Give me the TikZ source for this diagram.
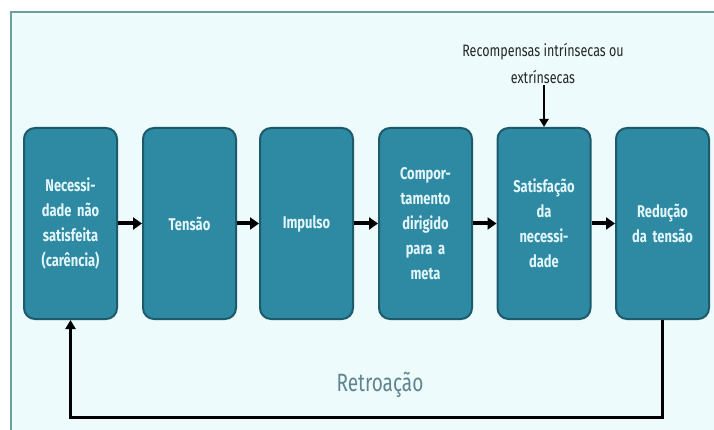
\documentclass[tikz,border=0pt]{standalone}
\usepackage{fontspec}
\setmainfont{Fira Sans}
\newfontfamily\condfont[FakeStretch=0.76]{Fira Sans}
\usetikzlibrary{arrows.meta}
\definecolor{bg}{HTML}{EDFBFC}
\definecolor{framec}{HTML}{6E9E9E}
\definecolor{boxfill}{HTML}{2E89A3}
\definecolor{boxdraw}{HTML}{1C5A6C}
\definecolor{boxtext}{HTML}{E2F6FA}
\definecolor{retro}{HTML}{5F8590}
\begin{document}
\begin{tikzpicture}[x=1pt,y=-1pt,
  stage/.style={draw=boxdraw, line width=2pt, fill=boxfill, rounded corners=11pt,
    minimum width=93pt, minimum height=191pt, inner sep=0pt, align=center,
    text width=88pt, text=boxtext, font=\condfont\bfseries\fontsize{17}{25}\selectfont},
  flow/.style={line width=4pt, -{Triangle[length=9pt,width=12pt]}, black},
  back/.style={line width=3pt, -{Triangle[length=9pt,width=10pt]}, black}]
\useasboundingbox (0,0) rectangle (714,430);
\fill[white] (0,0) rectangle (714,430);
\fill[bg] (11,12) rectangle (714,430);
\draw[framec, line width=1.5pt] (11,430) -- (11,12) -- (714,12);

\node[stage] (s1) at (70.5,223.5) {Necessi-\\dade não\\satisfeita\\(carência)};
\node[stage] (s2) at (189.5,223.5) {Tensão};
\node[stage] (s3) at (306.5,223.5) {Impulso};
\node[stage] (s4) at (425.5,223.5) {Compor-\\tamento\\dirigido\\para a\\meta};
\node[stage] (s5) at (544,223.5) {Satisfação\\da\\necessi-\\dade};
\node[stage] (s6) at (662.5,223.5) {Redução\\da tensão};

\draw[flow] (s1) -- (s2);
\draw[flow] (s2) -- (s3);
\draw[flow] (s3) -- (s4);
\draw[flow] (s4) -- (s5);
\draw[flow] (s5) -- (s6);

\node[font=\condfont\fontsize{16.5}{27}\selectfont, align=center, text=black!85, inner sep=2pt] (rew) at (543,63) {Recompensas intrínsecas ou\\extrínsecas};
\draw[flow, line width=2.5pt, -{Triangle[length=8pt,width=9pt]}] (s5.north |- rew.south) -- (s5.north);

\coordinate (fb) at (0,417);
\draw[back] (s6.south) -- (s6.south |- fb) -| (s1.south);
\node[font=\condfont\fontsize{25}{28}\selectfont, text=retro] (retroacao) at (380,385) {Retroação};
\end{tikzpicture}
\end{document}
